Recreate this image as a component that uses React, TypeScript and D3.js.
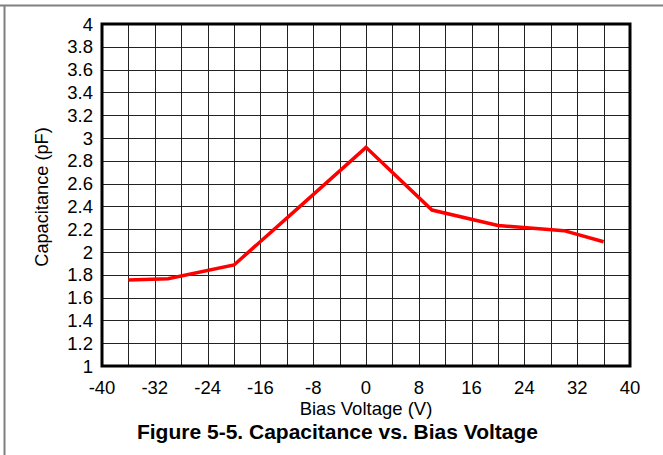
import React from "react";
import * as d3 from "d3";

const voltages = [-36, -30, -20, -10, 0, 10, 20, 30, 36];
const capacitance = [1.755, 1.765, 1.886, 2.4, 2.918, 2.368, 2.232, 2.187, 2.09];
const xTicks = [-40, -32, -24, -16, -8, 0, 8, 16, 24, 32, 40];
const yTicks = [1, 1.2, 1.4, 1.6, 1.8, 2, 2.2, 2.4, 2.6, 2.8, 3, 3.2, 3.4, 3.6, 3.8, 4];
const xGrid = d3.range(-40, 41, 4);

const W = 663, H = 455;
const L = 102, R = 630, T = 24, B = 366;
const FONT = "'Liberation Sans', Arial, sans-serif";

export default function App() {
  const x = d3.scaleLinear().domain([-40, 40]).range([L, R]);
  const y = d3.scaleLinear().domain([1, 4]).range([B, T]);
  const line = d3.line<number>().x((_, i) => x(voltages[i])).y((d) => y(d));
  return (
    <svg width={W} height={H} style={{ position: "absolute", left: 0, top: 0, background: "#fff" }}>
      <rect x={0} y={0} width={W} height={H} fill="#fff" />
      <line x1={0} x2={W} y1={5.5} y2={5.5} stroke="#808080" strokeWidth={2} />
      <line x1={4.5} x2={4.5} y1={5} y2={H} stroke="#808080" strokeWidth={2} />
      {xGrid.map((v) => (
        <line key={"gx" + v} x1={Math.round(x(v)) + 0.5} x2={Math.round(x(v)) + 0.5} y1={T} y2={B} stroke="#222" strokeWidth={1} />
      ))}
      {yTicks.map((v) => (
        <line key={"gy" + v} x1={L} x2={R} y1={Math.round(y(v)) + 0.5} y2={Math.round(y(v)) + 0.5} stroke="#222" strokeWidth={1} />
      ))}
      <rect x={L} y={T} width={R - L} height={B - T} fill="none" stroke="#000" strokeWidth={3} />
      <path d={line(capacitance) || ""} fill="none" stroke="#ff0000" strokeWidth={3.5} strokeLinejoin="miter" />
      {yTicks.map((v) => (
        <text key={"ty" + v} x={93} y={y(v)} dy="0.36em" textAnchor="end" fontFamily={FONT} fontSize={18.5} fill="#000">
          {String(v)}
        </text>
      ))}
      {xTicks.map((v) => (
        <text key={"tx" + v} x={x(v)} y={394} textAnchor="middle" fontFamily={FONT} fontSize={18.5} fill="#000">
          {String(v)}
        </text>
      ))}
      <text x={(L + R) / 2} y={415} textAnchor="middle" fontFamily={FONT} fontSize={18.5} fill="#000">
        Bias Voltage (V)
      </text>
      <text transform={`translate(48,197) rotate(-90)`} textAnchor="middle" fontFamily={FONT} fontSize={18.2} fill="#000">
        Capacitance (pF)
      </text>
      <text x={337.5} y={438.5} textAnchor="middle" fontFamily={FONT} fontSize={21} fontWeight="bold" fill="#000">
        Figure 5-5. Capacitance vs. Bias Voltage
      </text>
    </svg>
  );
}
